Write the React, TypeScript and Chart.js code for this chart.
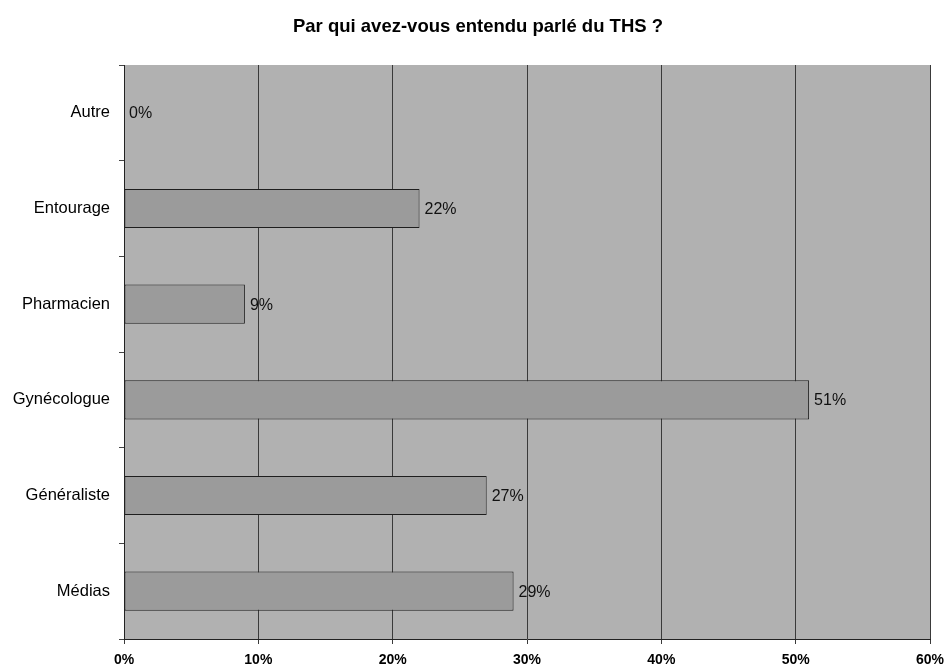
import React, { useEffect, useRef } from "react";
import { Chart, registerables } from "chart.js";

Chart.register(...registerables);

const title = "Par qui avez-vous entendu parlé du THS ?";
const categories = ["Autre", "Entourage", "Pharmacien", "Gynécologue", "Généraliste", "Médias"];
const values = [0, 22, 9, 51, 27, 29];
const xMax = 60;
const xStep = 10;

const FONT = "Arial, 'Liberation Sans', sans-serif";

export default function App() {
  const ref = useRef<HTMLCanvasElement | null>(null);
  useEffect(() => {
    if (!ref.current) return;
    const bgPlugin = {
      id: "bgPlugin",
      beforeDraw(chart: any) {
        const { ctx, chartArea } = chart;
        ctx.save();
        ctx.fillStyle = "#ffffff";
        ctx.fillRect(0, 0, chart.width, chart.height);
        ctx.fillStyle = "#b1b1b1";
        ctx.fillRect(chartArea.left, chartArea.top, chartArea.right - chartArea.left, chartArea.bottom - chartArea.top);
        ctx.fillStyle = "#000";
        ctx.font = "bold 18.5px " + FONT;
        ctx.textAlign = "center";
        ctx.textBaseline = "middle";
        ctx.fillText(title, 478, 27);
        ctx.restore();
      },
      afterDatasetsDraw(chart: any) {
        const { ctx } = chart;
        const meta = chart.getDatasetMeta(0);
        ctx.save();
        ctx.fillStyle = "#111";
        ctx.font = "16px " + FONT;
        ctx.textAlign = "left";
        ctx.textBaseline = "middle";
        meta.data.forEach((el: any, i: number) => {
          ctx.fillText(values[i] + "%", el.x + 5, el.y + 1);
        });
        ctx.restore();
      },
    };
    const chart = new Chart(ref.current, {
      type: "bar",
      data: {
        labels: categories,
        datasets: [
          {
            data: values,
            backgroundColor: "#9b9b9b",
            borderColor: "#1e1e1e",
            borderWidth: 1,
            borderSkipped: false,
            categoryPercentage: 1,
            barPercentage: 0.41,
          },
        ],
      },
      options: {
        indexAxis: "y",
        animation: false,
        responsive: false,
        layout: { padding: { top: 65, right: 17, left: 0, bottom: 0 } },
        plugins: { legend: { display: false }, title: { display: false }, tooltip: { enabled: false } },
        scales: {
          x: {
            min: 0,
            max: xMax,
            ticks: {
              stepSize: xStep,
              callback: (v: any) => v + "%",
              color: "#000",
              font: { family: FONT, size: 14, weight: "bold" },
              padding: 8,
            },
            grid: { color: "#3a3a3a", lineWidth: 1, tickLength: 5, drawTicks: true },
            border: { color: "#222", width: 1 },
            afterFit: (s: any) => {
              s.height = 27;
              s.paddingLeft = 0;
              s.paddingRight = 0;
            },
          },
          y: {
            ticks: {
              color: "#000",
              font: { family: FONT, size: 16.5 },
              padding: 9,
            },
            grid: { offset: true, drawOnChartArea: false, color: "#444", tickLength: 5 },
            border: { color: "#222", width: 1 },
            afterFit: (s: any) => {
              s.width = 124;
              s.paddingTop = 0;
              s.paddingBottom = 0;
            },
          },
        },
      },
      plugins: [bgPlugin],
    });
    return () => chart.destroy();
  }, []);
  return (
    <div style={{ position: "fixed", left: 0, top: 0, width: 947, height: 666, background: "#fff" }}>
      <canvas ref={ref} width={947} height={666} style={{ width: 947, height: 666 }} />
    </div>
  );
}
